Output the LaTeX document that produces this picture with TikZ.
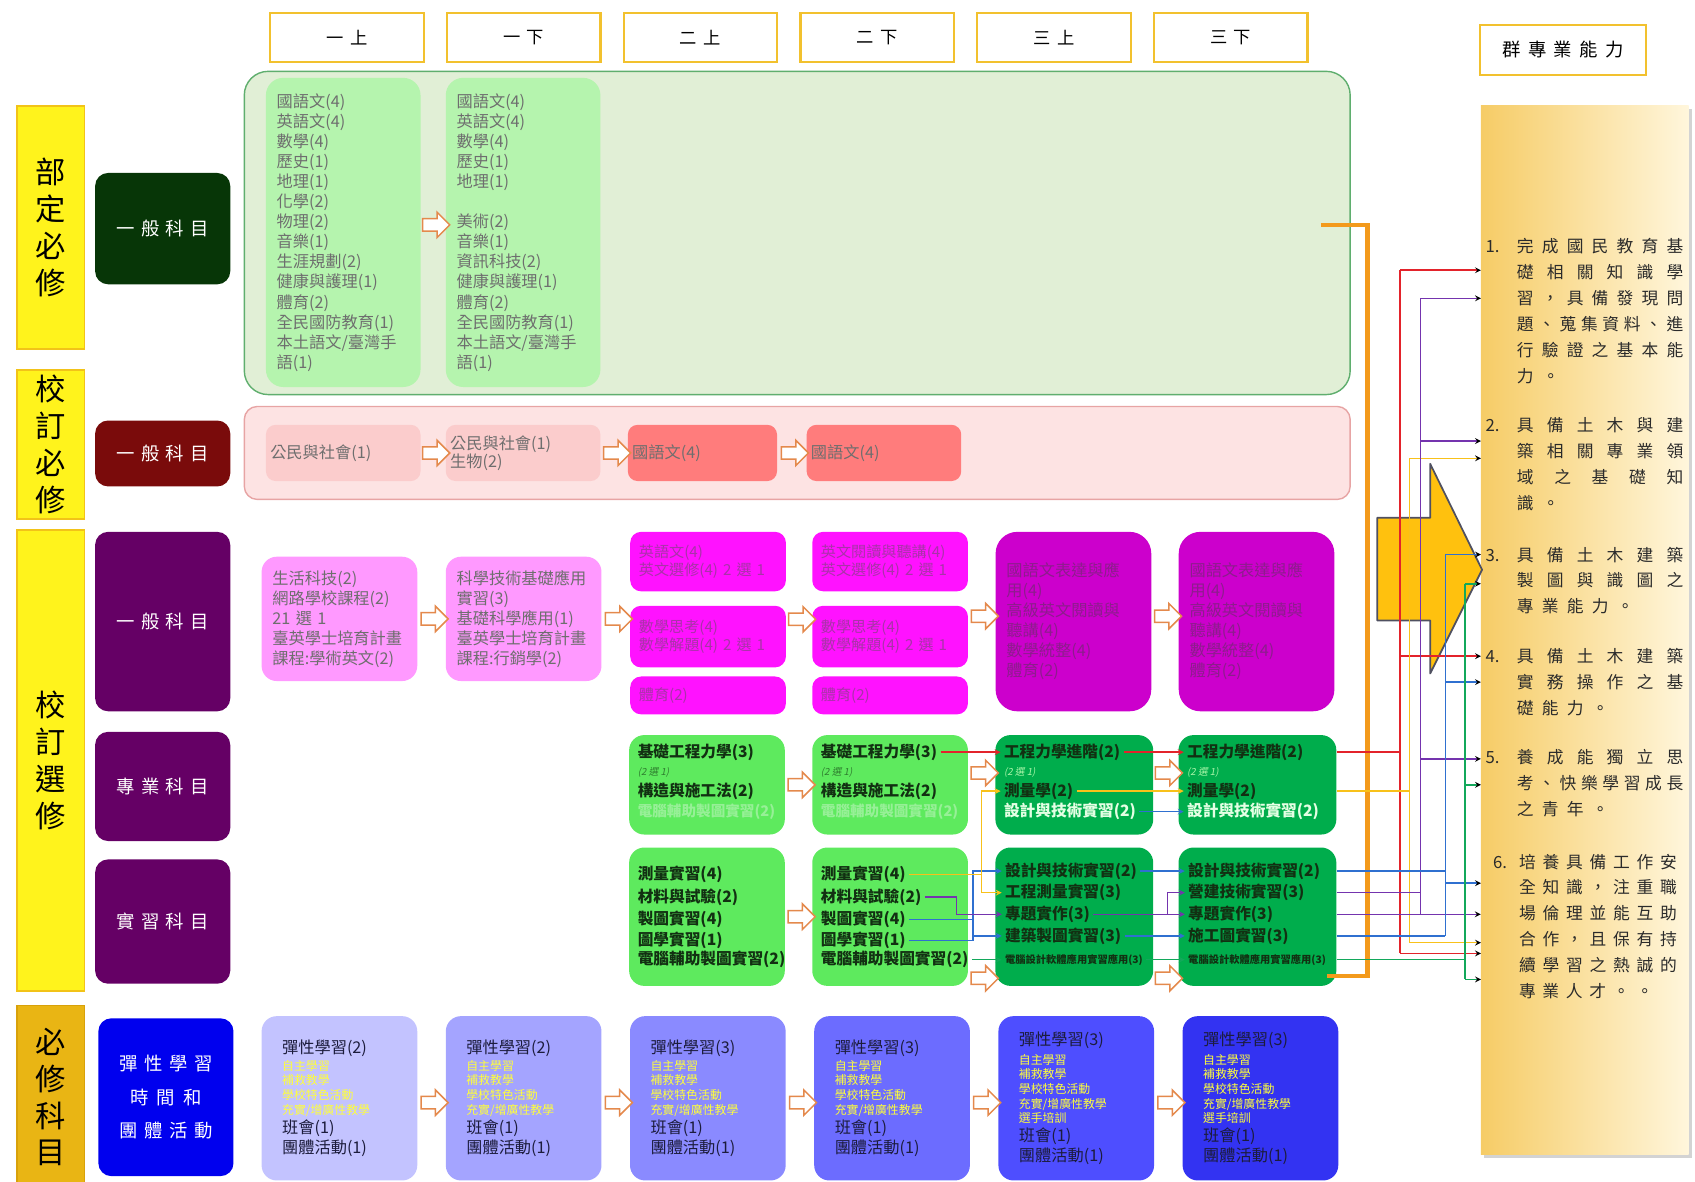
\documentclass[tikz,border=0pt]{standalone}
\usepackage{fontspec}
\setmainfont{Noto Sans CJK TC}
\newfontfamily\slfont{Noto Sans CJK TC}[FakeSlant=0.2]
\usetikzlibrary{positioning,calc,shapes.arrows,shadows}

\definecolor{hdrEdge}{HTML}{F2C12E}
\definecolor{sideFill}{HTML}{FFF31C}
\definecolor{sideEdge}{HTML}{F2C318}
\definecolor{sideGold}{HTML}{E9B514}
\definecolor{sideGoldEdge}{HTML}{D8A10A}
\definecolor{catGreen}{HTML}{073607}
\definecolor{catRed}{HTML}{7A0B0B}
\definecolor{catPurple}{HTML}{650065}
\definecolor{catBlue}{HTML}{0000EE}
\definecolor{grnBg}{HTML}{E1EFD6}
\definecolor{grnEdge}{HTML}{5FAE6E}
\definecolor{grnIn}{HTML}{B5F4AE}
\definecolor{pnkBg}{HTML}{FDE3E3}
\definecolor{pnkEdge}{HTML}{E7A4A4}
\definecolor{pnkIn}{HTML}{FBCCCC}
\definecolor{redIn}{HTML}{FF7C7C}
\definecolor{magLight}{HTML}{FF99FF}
\definecolor{magMid}{HTML}{FF12FF}
\definecolor{magDark}{HTML}{CC00CC}
\definecolor{grnLight}{HTML}{5EEA5E}
\definecolor{grnDark}{HTML}{00AD4C}
\definecolor{blueA}{HTML}{C3C3FF}
\definecolor{blueB}{HTML}{A4A4FF}
\definecolor{blueC}{HTML}{8A8AFF}
\definecolor{blueD}{HTML}{6C6CFF}
\definecolor{blueE}{HTML}{4E4EFF}
\definecolor{blueF}{HTML}{3333F2}
\definecolor{txtGray}{HTML}{6E6E6E}
\definecolor{magText}{HTML}{A833A8}
\definecolor{magInk}{HTML}{8C1D8C}
\definecolor{lnDark}{HTML}{123012}
\definecolor{lnFaint}{HTML}{97F097}
\definecolor{selDark}{HTML}{2F7F2F}
\definecolor{selLight}{HTML}{A8F5A8}
\definecolor{lnWhite}{HTML}{E4FFE4}
\definecolor{flexYel}{HTML}{FFFF3A}
\definecolor{flexDark}{HTML}{1C1C3C}
\definecolor{itemInk}{HTML}{2B2B2B}
\definecolor{cRed}{HTML}{E3232B}
\definecolor{cPur}{HTML}{7434AE}
\definecolor{cYel}{HTML}{F8C11A}
\definecolor{cBlu}{HTML}{2F70D0}
\definecolor{cGrn}{HTML}{13A85B}
\definecolor{cOrg}{HTML}{F39A1C}
\definecolor{hArrow}{HTML}{E4894C}
\definecolor{goalGold}{HTML}{F6CC66}
\definecolor{goalCream}{HTML}{FFF6DC}
\definecolor{bigArrow}{HTML}{FFC10E}
\definecolor{bigEdge}{HTML}{4F5060}

% letters of a word spread over a given width
\def\sprfirst#1{#1\sprloop}
\def\sprloop#1{\ifx\relax#1\else\hfill#1\expandafter\sprloop\fi}
\newcommand\spreadtext[2][154pt]{\makebox[#1][s]{\sprfirst#2\relax}}
\newcommand\itm[3][29pt]{\makebox[#1][l]{#2}\begin{tabular}[t]{@{}l@{}}#3\end{tabular}}
\newcommand\yl[1]{\textcolor{flexYel}{#1}}
\newcommand\bg[1]{{\fontsize{15}{15}\selectfont #1}}

\tikzset{>=stealth,
hdr/.style={draw=hdrEdge,line width=2pt,fill=white,minimum width=142pt,minimum height=45pt,font=\fontsize{16}{18}\selectfont}, % term boxes on top
side/.style={draw=sideEdge,line width=1.5pt,fill=sideFill,minimum width=62pt,align=center,inner sep=0pt,font=\fontsize{28}{34}\selectfont},
cat/.style={rounded corners=12pt,minimum width=125pt,text=white,align=center,font=\fontsize{17}{31}\selectfont},
panel/.style={line width=1.3pt,minimum width=1023pt},
cbox/.style={rounded corners=14pt,minimum width=144pt,inner xsep=8pt,inner ysep=2pt,text width=128pt,align=left},
glist/.style={cbox,fill=grnIn,rounded corners=16pt,minimum width=143pt,minimum height=286pt,inner xsep=10pt,text width=123pt,text=txtGray,font=\fontsize{15}{18.6}\selectfont},
plist/.style={cbox,fill=pnkIn,rounded corners=9pt,minimum width=143pt,minimum height=52pt,inner xsep=4pt,text width=135pt,text=txtGray,font=\fontsize{15}{17}\selectfont},
mlist/.style={cbox,fill=magLight,minimum height=115pt,inner xsep=10pt,text width=124pt,text=txtGray,font=\fontsize{15}{18.5}\selectfont},
msmall/.style={cbox,fill=magMid,rounded corners=10pt,text=magText,font=\fontsize{14}{17.5}\selectfont},
mbig/.style={cbox,fill=magDark,rounded corners=20pt,minimum height=166pt,inner xsep=10pt,text width=124pt,text=magInk,font=\fontsize{15}{18.5}\selectfont},
zbox/.style={cbox,minimum height=92pt},
sbox/.style={cbox,minimum height=128pt},
fbox/.style={cbox,minimum height=152pt,inner xsep=19pt,text width=106pt,text=flexDark,font={\fontsize{11}{13.5}\selectfont\lineskiplimit=-30pt}},
zl/.style={anchor=west,inner xsep=3pt,inner ysep=1pt,text=lnDark,font=\fontsize{14.5}{16}\selectfont\bfseries}, % one course line
zs/.style={anchor=west,inner xsep=3pt,inner ysep=0pt,text=selDark,font=\slfont\fontsize{9}{10}\selectfont},
faint/.style={text=lnFaint,font=\fontsize{13.5}{15}\selectfont\bfseries},
harrow/.style={single arrow,draw=hArrow,fill=white,line width=1.4pt,minimum height=25pt,inner sep=5pt,single arrow head extend=6pt},
goalbox/.style={minimum width=192pt,minimum height=970pt,left color=goalGold,right color=goalCream,drop shadow={shadow xshift=3pt,shadow yshift=-3pt,opacity=.35}},
itemtxt/.style={anchor=north west,inner sep=0pt,text=itemInk,font=\fontsize{15.5}{24}\selectfont},
bigarr/.style={fill=bigArrow,draw=bigEdge,line width=1.6pt,line join=round},
cred/.style={draw=cRed,line width=1.4pt},
cyel/.style={draw=cYel,line width=1.4pt},
cpur/.style={draw=cPur,line width=1.4pt},
cblu/.style={draw=cBlu,line width=1.4pt},
cgrn/.style={draw=cGrn,line width=1.4pt},
corg/.style={draw=cOrg,line width=4pt}
}

\begin{document}
\begin{tikzpicture}[x=1pt,y=-1pt]
\useasboundingbox (0,0) rectangle (1568,1093);

% terms
\node[hdr] (hdr1) at (321,34.5) {\spreadtext[38pt]{一上}};
\node[hdr,right=19.5pt of hdr1] (hdr2) {\spreadtext[38pt]{一下}};
\node[hdr,right=19.5pt of hdr2] (hdr3) {\spreadtext[38pt]{二上}};
\node[hdr,right=19.5pt of hdr3] (hdr4) {\spreadtext[38pt]{二下}};
\node[hdr,right=19.5pt of hdr4] (hdr5) {\spreadtext[38pt]{三上}};
\node[hdr,right=19.5pt of hdr5] (hdr6) {\spreadtext[38pt]{三下}};
\node[hdr,minimum width=154pt,minimum height=46pt,font=\fontsize{17}{20}\selectfont] (hdrG) at (1446,46) {\spreadtext[112pt]{群專業能力}};

% left columns
\node[side,minimum height=225pt] (side1) at (47,210.5) {部\\定\\必\\修};
\node[side,minimum height=138pt] (side2) at (47,411) {校\\訂\\必\\修};
\node[side,minimum height=427pt] (side3) at (47,703.5) {校\\訂\\選\\修};
\node[side,minimum height=170pt,fill=sideGold,draw=sideGoldEdge] (side4) at (47,1015) {必\\修\\科\\目};

\node[cat,fill=catGreen,minimum height=103pt] (catA) at (150.5,211.5) {\spreadtext[85pt]{一般科目}};
\node[cat,fill=catRed,minimum height=61pt] (catB) at (150.5,419.5) {\spreadtext[85pt]{一般科目}};
\node[cat,fill=catPurple,minimum height=166pt] (catC) at (150.5,575) {\spreadtext[85pt]{一般科目}};
\node[cat,fill=catPurple,minimum height=101pt] (catD) at (150.5,727.5) {\spreadtext[85pt]{專業科目}};
\node[cat,fill=catPurple,minimum height=115pt] (catE) at (150.5,852.5) {\spreadtext[85pt]{實習科目}};
\node[cat,fill=catBlue,minimum height=146pt] (catF) at (153.5,1015) {\spreadtext[86pt]{彈性學習}\\\spreadtext[66pt]{時間和}\\\spreadtext[86pt]{團體活動}};

% 部定必修 / 校訂必修
\node[panel,draw=grnEdge,fill=grnBg,rounded corners=22pt,minimum height=299pt] (grnbg) at (737.5,215.5) {};
\node[glist] (g1) at (317.5,215) {國語文(4)\\英語文(4)\\數學(4)\\歷史(1)\\地理(1)\\化學(2)\\物理(2)\\音樂(1)\\生涯規劃(2)\\健康與護理(1)\\體育(2)\\全民國防教育(1)\\本土語文/臺灣手\\語(1)};
\node[glist,right=23pt of g1] (g2) {國語文(4)\\英語文(4)\\數學(4)\\歷史(1)\\地理(1)\\\mbox{}\\美術(2)\\音樂(1)\\資訊科技(2)\\健康與護理(1)\\體育(2)\\全民國防教育(1)\\本土語文/臺灣手\\語(1)};

\node[panel,draw=pnkEdge,fill=pnkBg,rounded corners=12pt,minimum height=86pt] (pnkbg) at (737.5,419) {};
\node[plist] (p1) at (317.5,419) {公民與社會(1)};
\node[plist,right=23pt of p1] (p2) {公民與社會(1)\\生物(2)};
\node[plist,fill=redIn,minimum width=138pt,text width=130pt,right=25pt of p2] (p3) {國語文(4)};
\node[plist,fill=redIn,right=27pt of p3] (p4) {國語文(4)};

% 校訂選修 一般科目
\node[mlist] (m1) at (314,572.5) {生活科技(2)\\網路學校課程(2)\\21 選 1\\臺英學士培育計畫\\課程:學術英文(2)};
\node[mlist,right=26pt of m1] (m2) {科學技術基礎應用\\實習(3)\\基礎科學應用(1)\\臺英學士培育計畫\\課程:行銷學(2)};
\node[msmall,minimum height=55pt] (m3a) at (655,519.5) {英語文(4)\\英文選修(4) 2 選 1};
\node[msmall,minimum height=57pt,below=13pt of m3a] (m3b) {數學思考(4)\\數學解題(4) 2 選 1};
\node[msmall,minimum height=35pt,below=8pt of m3b] (m3c) {體育(2)};
\node[msmall,minimum height=55pt,right=24pt of m3a] (m4a) {英文閱讀與聽講(4)\\英文選修(4) 2 選 1};
\node[msmall,minimum height=57pt,right=24pt of m3b] (m4b) {數學思考(4)\\數學解題(4) 2 選 1};
\node[msmall,minimum height=35pt,right=24pt of m3c] (m4c) {體育(2)};
\node[mbig] (m5) at (993,575) {國語文表達與應\\用(4)\\高級英文閱讀與\\聽講(4)\\數學統整(4)\\體育(2)};
\node[mbig,right=25pt of m5] (m6) {國語文表達與應\\用(4)\\高級英文閱讀與\\聽講(4)\\數學統整(4)\\體育(2)};

% 專業科目
\node[zbox,fill=grnLight] (z3) at (654,726) {};
\node[zbox,fill=grnLight,right=25pt of z3] (z4) {};
\node[zbox,fill=grnDark,minimum width=146pt,right=25pt of z4] (z5) {};
\node[zbox,fill=grnDark,minimum width=146pt,right=23pt of z5] (z6) {};

\node[zl] (z3a) at ($(z3.north west)+(5,16)$) {基礎工程力學(3)};
\node[below=19pt of z3a.west,zs] (z3b) {(2 選 1)};
\node[below=17pt of z3b.west,zl] (z3c) {構造與施工法(2)};
\node[below=19pt of z3c.west,zl,faint] (z3d) {電腦輔助製圖實習(2)};
\node[zl] (z4a) at ($(z4.north west)+(5,16)$) {基礎工程力學(3)};
\node[below=19pt of z4a.west,zs] (z4b) {(2 選 1)};
\node[below=17pt of z4b.west,zl] (z4c) {構造與施工法(2)};
\node[below=19pt of z4c.west,zl,faint] (z4d) {電腦輔助製圖實習(2)};
\node[zl] (z5a) at ($(z5.north west)+(5,16)$) {工程力學進階(2)};
\node[below=19pt of z5a.west,zs,text=selLight] (z5b) {(2 選 1)};
\node[below=17pt of z5b.west,zl] (z5c) {測量學(2)};
\node[below=19pt of z5c.west,zl,text=lnWhite] (z5d) {設計與技術實習(2)};
\node[zl] (z6a) at ($(z6.north west)+(5,16)$) {工程力學進階(2)};
\node[below=19pt of z6a.west,zs,text=selLight] (z6b) {(2 選 1)};
\node[below=17pt of z6b.west,zl] (z6c) {測量學(2)};
\node[below=19pt of z6c.west,zl,text=lnWhite] (z6d) {設計與技術實習(2)};

% 實習科目
\node[sbox,fill=grnLight] (s3) at (654,848) {};
\node[sbox,fill=grnLight,right=25pt of s3] (s4) {};
\node[sbox,fill=grnDark,minimum width=146pt,right=25pt of s4] (s5) {};
\node[sbox,fill=grnDark,minimum width=146pt,right=23pt of s5] (s6) {};

\node[zl] (s3a) at ($(s3.north west)+(5,25)$) {測量實習(4)};
\node[below=21pt of s3a.west,zl] (s3b) {材料與試驗(2)};
\node[below=21pt of s3b.west,zl] (s3c) {製圖實習(4)};
\node[below=19pt of s3c.west,zl] (s3d) {圖學實習(1)};
\node[below=18pt of s3d.west,zl] (s3e) {電腦輔助製圖實習(2)};
\node[zl] (s4a) at ($(s4.north west)+(5,25)$) {測量實習(4)};
\node[below=21pt of s4a.west,zl] (s4b) {材料與試驗(2)};
\node[below=21pt of s4b.west,zl] (s4c) {製圖實習(4)};
\node[below=19pt of s4c.west,zl] (s4d) {圖學實習(1)};
\node[below=18pt of s4d.west,zl] (s4e) {電腦輔助製圖實習(2)};
\node[zl] (s5a) at ($(s5.north west)+(6,22)$) {設計與技術實習(2)};
\node[below=20pt of s5a.west,zl] (s5b) {工程測量實習(3)};
\node[below=20pt of s5b.west,zl] (s5c) {專題實作(3)};
\node[below=20pt of s5c.west,zl] (s5d) {建築製圖實習(3)};
\node[below=22pt of s5d.west,zl,font=\fontsize{9.5}{11}\selectfont\bfseries] (s5e) {電腦設計軟體應用實習應用(3)};
\node[zl] (s6a) at ($(s6.north west)+(6,22)$) {設計與技術實習(2)};
\node[below=20pt of s6a.west,zl] (s6b) {營建技術實習(3)};
\node[below=20pt of s6b.west,zl] (s6c) {專題實作(3)};
\node[below=20pt of s6c.west,zl] (s6d) {施工圖實習(3)};
\node[below=22pt of s6d.west,zl,font=\fontsize{9.5}{11}\selectfont\bfseries] (s6e) {電腦設計軟體應用實習應用(3)};

% 彈性學習時間和團體活動
\node[fbox,fill=blueA] (b1) at (314,1016) {\bg{彈性學習(2)}\\[2pt]\yl{自主學習}\\\yl{補救教學}\\\yl{學校特色活動}\\\yl{充實/增廣性教學}\\[4.5pt]\bg{班會(1)}\\[5pt]\bg{團體活動(1)}};
\node[fbox,fill=blueB,right=26pt of b1] (b2) {\bg{彈性學習(2)}\\[2pt]\yl{自主學習}\\\yl{補救教學}\\\yl{學校特色活動}\\\yl{充實/增廣性教學}\\[4.5pt]\bg{班會(1)}\\[5pt]\bg{團體活動(1)}};
\node[fbox,fill=blueC,right=26pt of b2] (b3) {\bg{彈性學習(3)}\\[2pt]\yl{自主學習}\\\yl{補救教學}\\\yl{學校特色活動}\\\yl{充實/增廣性教學}\\[4.5pt]\bg{班會(1)}\\[5pt]\bg{團體活動(1)}};
\node[fbox,fill=blueD,right=26pt of b3] (b4) {\bg{彈性學習(3)}\\[2pt]\yl{自主學習}\\\yl{補救教學}\\\yl{學校特色活動}\\\yl{充實/增廣性教學}\\[4.5pt]\bg{班會(1)}\\[5pt]\bg{團體活動(1)}};
\node[fbox,fill=blueE,right=26pt of b4] (b5) {\bg{彈性學習(3)}\\[3.5pt]\yl{自主學習}\\\yl{補救教學}\\\yl{學校特色活動}\\\yl{充實/增廣性教學}\\\yl{選手培訓}\\[3.5pt]\bg{班會(1)}\\[5pt]\bg{團體活動(1)}};
\node[fbox,fill=blueF,right=26pt of b5] (b6) {\bg{彈性學習(3)}\\[3.5pt]\yl{自主學習}\\\yl{補救教學}\\\yl{學校特色活動}\\\yl{充實/增廣性教學}\\\yl{選手培訓}\\[3.5pt]\bg{班會(1)}\\[5pt]\bg{團體活動(1)}};

% hollow arrows between terms
\node[harrow] (h1) at ($(g1.east)!.5!(g2.west)+(0,-7)$) {};
\node[harrow] (h2) at ($(p1.east)!.5!(p2.west)$) {};
\node[harrow] (h3) at ($(p2.east)!.5!(p3.west)$) {};
\node[harrow] (h4) at ($(p3.east)!.5!(p4.west)$) {};
\node[harrow] (h5) at ($(m1.east)!.5!(m2.west)$) {};
\node[harrow] (h6) at ($(m2.east)!.5!(m2.east-|m3b.west)$) {};
\node[harrow] (h7) at ($(m3b.east)!.5!(m4b.west)+(0,-16)$) {};
\node[harrow] (h8) at ($(m5.west-|m4b.east)!.5!(m5.west)+(0,-5)$) {};
\node[harrow] (h9) at ($(m5.east)!.5!(m6.west)+(0,-5)$) {};
\node[harrow] (h10) at ($(z3.east)!.5!(z4.west)$) {};
\node[harrow] (h11) at ($(z4.east)!.5!(z5.west)+(0,-11)$) {};
\node[harrow] (h12) at ($(z5.east)!.5!(z6.west)+(0,-11)$) {};
\node[harrow] (h13) at ($(s3.east)!.5!(s4.west)$) {};
\node[harrow] (h14) at ($(s4.east)!.5!(s5.west)+(0,57)$) {};
\node[harrow] (h15) at ($(s5.east)!.5!(s6.west)+(0,57)$) {};
\node[harrow] (h16) at ($(b1.east)!.5!(b2.west)+(0,4)$) {};
\node[harrow] (h17) at ($(b2.east)!.5!(b3.west)+(0,4)$) {};
\node[harrow] (h18) at ($(b3.east)!.5!(b4.west)+(0,4)$) {};
\node[harrow] (h19) at ($(b4.east)!.5!(b5.west)+(0,4)$) {};
\node[harrow] (h20) at ($(b5.east)!.5!(b6.west)+(0,4)$) {};

% 群專業能力
\node[goalbox] (goal) at (1466,583) {};
\draw[bigarr] (1274,479) -- (1323,479) -- (1323,429) -- (1371,527) -- (1323,623) -- (1323,574) -- (1274,574) -- cycle;

\node[itemtxt] (item1) at (1374,217) {\itm{1.}{\spreadtext{完成國民教育基}\\\spreadtext{礎相關知識學}\\\spreadtext{習，具備發現問}\\\spreadtext{題、蒐集資料、進}\\\spreadtext{行驗證之基本能}\\\spreadtext[39pt]{力。}}};
\node[itemtxt] (item2) at (1374,382) {\itm{2.}{\spreadtext{具備土木與建}\\\spreadtext{築相關專業領}\\\spreadtext{域之基礎知}\\\spreadtext[39pt]{識。}}};
\node[itemtxt] (item3) at (1374,502) {\itm{3.}{\spreadtext{具備土木建築}\\\spreadtext{製圖與識圖之}\\\spreadtext[108pt]{專業能力。}}};
\node[itemtxt] (item4) at (1374,596) {\itm{4.}{\spreadtext{具備土木建築}\\\spreadtext{實務操作之基}\\\spreadtext[85pt]{礎能力。}}};
\node[itemtxt] (item5) at (1374,689) {\itm{5.}{\spreadtext{養成能獨立思}\\\spreadtext{考、快樂學習成長}\\\spreadtext[85pt]{之青年。}}};
\node[itemtxt] (item6) at (1381,786) {\itm[24pt]{6.}{\spreadtext[146pt]{培養具備工作安}\\\spreadtext[146pt]{全知識，注重職}\\\spreadtext[146pt]{場倫理並能互助}\\\spreadtext[146pt]{合作，且保有持}\\\spreadtext[146pt]{續學習之熱誠的}\\\spreadtext[124pt]{專業人才。。}}};

% ends of the arrows at the abilities
\coordinate (e1) at (1370,250);
\coordinate (e2) at (1370,276);
\coordinate (e3) at (1370,408);
\coordinate (e4) at (1370,424);
\coordinate (e5) at (1370,513);
\coordinate (e6) at (1370,540);
\coordinate (e7) at (1370,607);
\coordinate (e8) at (1370,631);
\coordinate (e9) at (1370,702);
\coordinate (e10) at (1370,726);
\coordinate (e11) at (1370,817);
\coordinate (e13) at (1370,872);
\coordinate (e14) at (1370,882);
\coordinate (e15) at (1370,906);
\coordinate (rbus) at (1295,0);
\coordinate (ybus) at (1304,0);
\coordinate (pbus) at (1314,0);
\coordinate (bbus) at (1337,0);
\coordinate (gbus) at (1355,0);
\coordinate (yj) at (908,0);
\coordinate (pj) at (885,0);
\coordinate (bj) at (900,0);
\coordinate (pk) at (1080,0);
\coordinate (oTop) at (1222,208);
\coordinate (oBot) at (1228,903);
\coordinate (obus) at (1265,0);

\draw[corg] (oTop) -- (oTop-|obus) -- (obus|-oBot) -- (oBot);

% 二下 to 三上
\draw[cred,->] (z4a) -- (z5a);
\draw[cblu] (s4c.east) -- (s4c-|bj);
\draw[cblu,->] (s4d.east) -| (bj|-s5a) -- (s5a.west);
\draw[cblu,->] (bj|-s5d) -- (s5d.west);
\draw[cyel,->] (s4a.east) -| (yj|-z5c) -- (z5c.west);
\draw[cyel,->] (yj|-s4a) |- (s5b.west);
\draw[cpur,->] (s4b.east) -| (pj|-s5c) -- (s5c.west);
\draw[cgrn,->] (s4e) -- (s5e);

% 三上 to 三下
\draw[cred,->] (z5a) -- (z6a);
\draw[cyel,->] (z5c) -- (z6c);
\draw[cblu,->] (z5d) -- (z6d);
\draw[cblu,->] (s5a) -- (s6a);
\draw[cpur,->] (s5c) -- (s6c);
\draw[cpur,->] (s5c-|pk) |- (s6b.west);
\draw[cblu,->] (s5d) -- (s6d);
\draw[cgrn,->] (s5e) -- (s6e);

% 三下 to the abilities
\draw[cred] (z6a-|z6.east) -- (z6a-|rbus) (rbus|-e1) -- (rbus|-e14);
\draw[cred] (rbus|-e1) edge[->] (e1) (rbus|-e7) edge[->] (e7) (rbus|-e14) edge[->] (e14);
\draw[cyel] (z6c-|z6.east) -- (z6c-|ybus) (ybus|-e4) -- (ybus|-e13);
\draw[cyel] (ybus|-e4) edge[->] (e4) (ybus|-e13) edge[->] (e13);
\draw[cpur] (s6b-|s6.east) -- (s6b-|pbus) (pbus|-e2) -- (pbus|-s6c);
\draw[cpur] (pbus|-e2) edge[->] (e2) (pbus|-e3) edge[->] (e3) (pbus|-e9) edge[->] (e9) (s6c-|s6.east) edge[->] (s6c-|goal.west);
\draw[cblu] (s6a-|s6.east) -- (s6a-|bbus) (s6d-|s6.east) -- (s6d-|bbus) (bbus|-e5) -- (bbus|-s6d);
\draw[cblu] (bbus|-e5) edge[->] (e5) (bbus|-e8) edge[->] (e8) (bbus|-e11) edge[->] (e11);
\draw[cgrn] (s6e-|s6.east) -- (s6e-|gbus) (gbus|-e6) -- (gbus|-e15);
\draw[cgrn] (gbus|-e6) edge[->] (e6) (gbus|-e10) edge[->] (e10) (gbus|-e15) edge[->] (e15);
\end{tikzpicture}
\end{document}
